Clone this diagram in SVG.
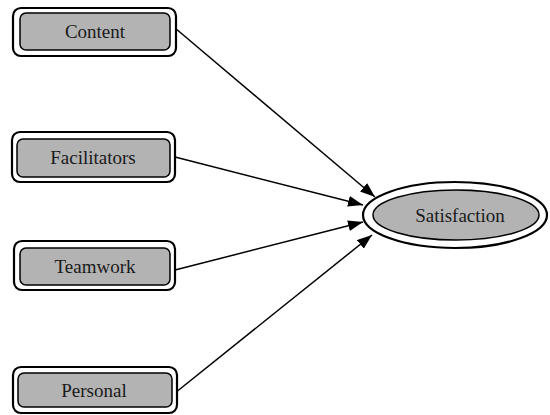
<svg xmlns="http://www.w3.org/2000/svg" width="550" height="415" viewBox="0 0 550 415">
<style>
.outer{fill:#ffffff;stroke:#000;stroke-width:2.2}
.inner{fill:#b3b3b3;stroke:#000;stroke-width:1.5}
.lbl{font-family:"Liberation Serif","DejaVu Serif",serif;font-size:19px;fill:#1a1a1a;text-anchor:middle}
.edge{stroke:#000;stroke-width:1.5;fill:none;marker-end:url(#ah)}
</style>
<defs>
<marker id="ah" markerUnits="userSpaceOnUse" markerWidth="16" markerHeight="12" refX="15" refY="5.5" orient="auto">
<path d="M0,0 L15,5.5 L0,11 z" fill="#000"/>
</marker>
</defs>
<rect width="550" height="415" fill="#fff"/>
<g id="connectors">
<line class="edge" x1="175" y1="28" x2="375" y2="197"/>
<line class="edge" x1="175" y1="157" x2="363" y2="205"/>
<line class="edge" x1="175" y1="270" x2="363" y2="222"/>
<line class="edge" x1="175" y1="393" x2="372" y2="235"/>
</g>
<g id="content">
<rect class="outer" x="13" y="8" width="163" height="48" rx="8"/>
<rect class="inner" x="20" y="13" width="150" height="37" rx="6"/>
<text class="lbl" x="95" y="38">Content</text>
</g>
<g id="facilitators">
<rect class="outer" x="12" y="132" width="163" height="50" rx="8"/>
<rect class="inner" x="17" y="139" width="153" height="38" rx="6"/>
<text class="lbl" x="93" y="164">Facilitators</text>
</g>
<g id="teamwork">
<rect class="outer" x="14" y="241" width="161" height="49" rx="8"/>
<rect class="inner" x="20" y="248" width="150" height="37" rx="6"/>
<text class="lbl" x="95" y="273">Teamwork</text>
</g>
<g id="personal">
<rect class="outer" x="13" y="367" width="164" height="46" rx="8"/>
<rect class="inner" x="18" y="373" width="154" height="34" rx="6"/>
<text class="lbl" x="94" y="397">Personal</text>
</g>
<g id="satisfaction">
<ellipse class="outer" cx="455" cy="215" rx="92" ry="33"/>
<ellipse class="inner" cx="456" cy="215" rx="83" ry="25"/>
<text class="lbl" x="460" y="222">Satisfaction</text>
</g>
</svg>
